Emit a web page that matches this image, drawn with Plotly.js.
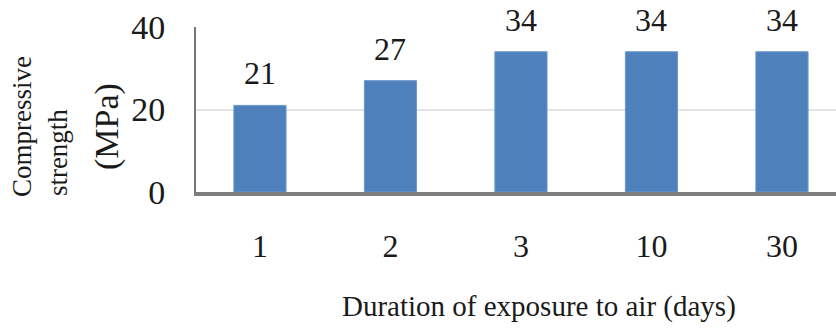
<!DOCTYPE html>
<html>
<head>
<meta charset="utf-8">
<script src="https://cdn.plot.ly/plotly-3.0.1.min.js"></script>
<style>
  html, body { margin: 0; padding: 0; background: #fff; }
  #chart { width: 836px; height: 329px; }
</style>
</head>
<body>
<div id="chart"></div>
<script>
// Data
const categories = ['1', '2', '3', '10', '30'];
const strengthMPa = [21, 27, 34, 34, 34];
const yTickValues = [0, 20, 40];
const xAxisTitle = 'Duration of exposure to air (days)';
const yTitleLines = ['Compressive', 'strength', '(MPa)'];

const serif = 'Liberation Serif, Times New Roman, serif';
const textColor = '#1a1a1a';

const barTrace = {
  type: 'bar',
  x: categories,
  y: strengthMPa,
  width: 0.4,
  marker: { color: '#4e80bc', line: { width: 1, color: '#6d99cf' } },
  hoverinfo: 'x+y'
};

// data labels placed above each bar (x given as category index)
const valueLabels = categories.map((c, i) => ({
  x: i, y: strengthMPa[i], xref: 'x', yref: 'y',
  text: String(strengthMPa[i]),
  showarrow: false, yanchor: 'bottom', yshift: 12,
  font: { family: serif, size: 32, color: textColor }
}));

const yTitleAnnotations = [
  { text: yTitleLines[0], x: -0.272, y: -0.04, xanchor: 'center', yanchor: 'bottom', size: 27 },
  { text: yTitleLines[1], x: -0.2156, y: -0.04, xanchor: 'center', yanchor: 'bottom', size: 27 },
  { text: yTitleLines[2], x: -0.139, y: 0.394, xanchor: 'center', yanchor: 'middle', size: 34 }
].map(a => ({
  text: a.text, x: a.x, y: a.y, xref: 'paper', yref: 'paper',
  xanchor: a.xanchor, yanchor: a.yanchor, textangle: -90, showarrow: false,
  font: { family: serif, size: a.size, color: textColor }
}));

const xTitleAnnotation = {
  text: xAxisTitle, xref: 'paper', yref: 'paper',
  x: (539 - 196) / 640, y: -(306 - 192) / 165,
  xanchor: 'center', yanchor: 'middle', showarrow: false,
  font: { family: serif, size: 29, color: textColor }
};

const layout = {
  width: 836, height: 329,
  margin: { l: 196, r: 0, t: 27, b: 137, pad: 0 },
  paper_bgcolor: '#ffffff',
  plot_bgcolor: '#ffffff',
  showlegend: false,
  bargap: 0.6,
  xaxis: {
    type: 'category',
    range: [-0.49, 4.414],
    showgrid: false,
    showline: true, linecolor: 'rgba(40,40,40,0.6)', linewidth: 4,
    ticks: '', ticklabelstandoff: 23,
    tickfont: { family: serif, size: 32, color: textColor },
    fixedrange: true, automargin: false
  },
  yaxis: {
    range: [0, 40],
    tickvals: yTickValues,
    ticktext: yTickValues.map(String),
    showgrid: true, gridcolor: '#e4e4e4', gridwidth: 2,
    zeroline: false,
    showline: true, linecolor: '#777777', linewidth: 2,
    ticks: '', ticklabelstandoff: 22,
    tickfont: { family: serif, size: 34, color: textColor },
    fixedrange: true, automargin: false
  },
  annotations: valueLabels.concat(yTitleAnnotations, [xTitleAnnotation]),
  font: { family: serif, color: textColor }
};

Plotly.newPlot('chart', [barTrace], layout, { staticPlot: true, displayModeBar: false });
</script>
</body>
</html>
